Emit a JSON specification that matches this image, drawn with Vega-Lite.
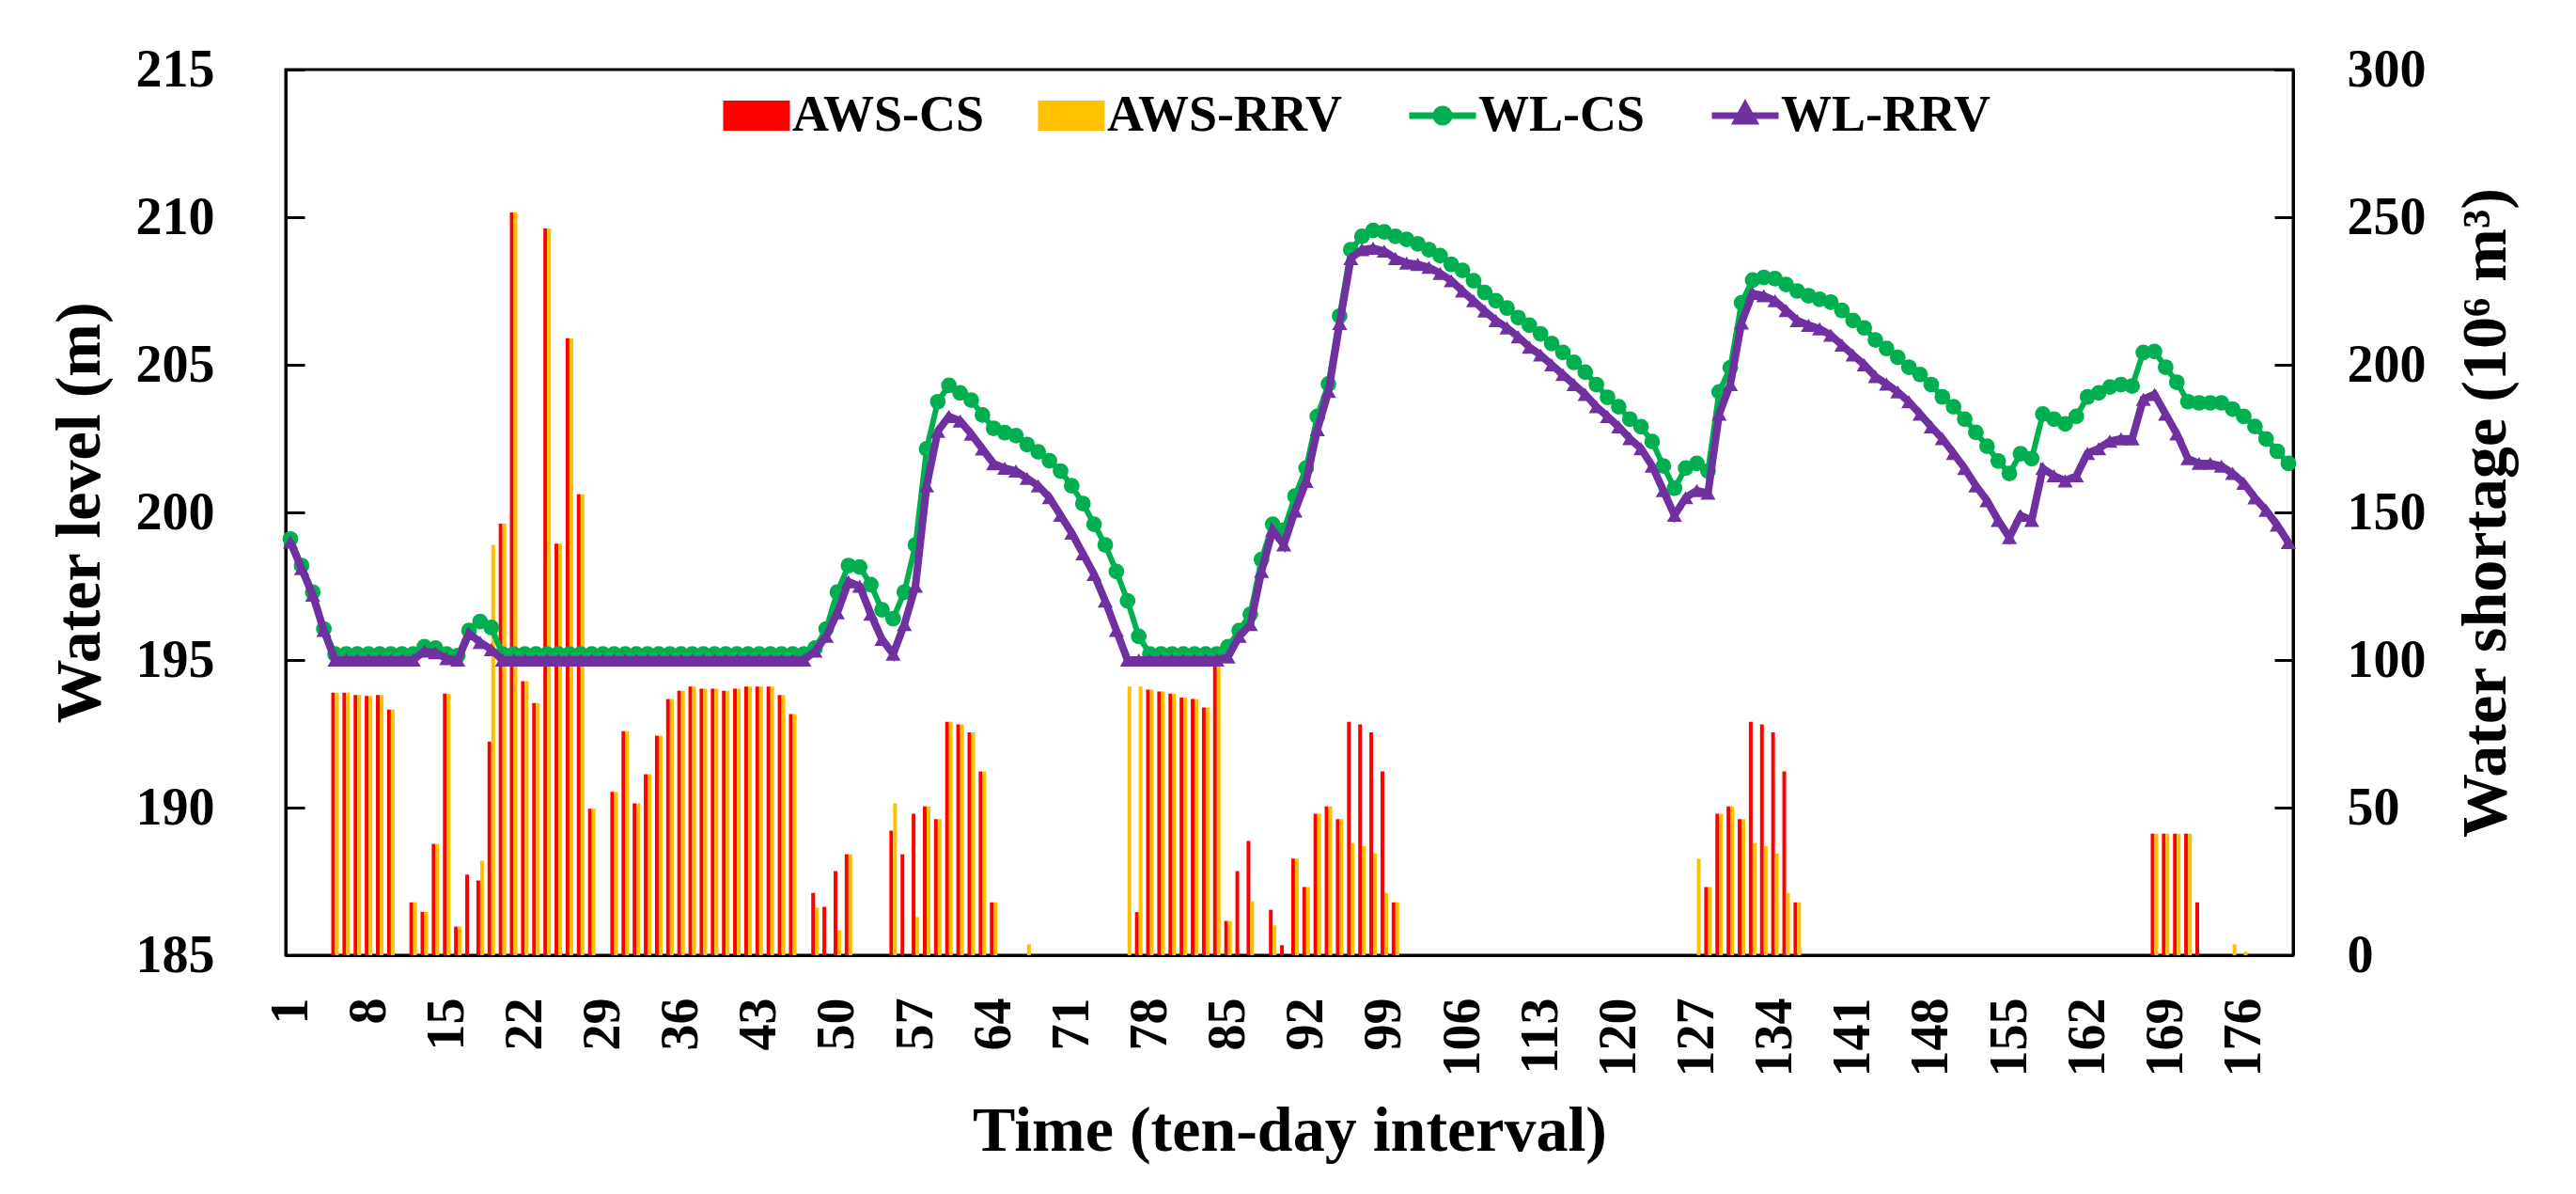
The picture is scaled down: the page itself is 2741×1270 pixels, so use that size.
{
"$schema":"https://vega.github.io/schema/vega-lite/v6.json",
"width":2136,"height":942,
"autosize":{"type":"none"},
"padding":{"left":304,"top":74,"right":301,"bottom":254},
"background":"white",
"config":{
 "view":{"stroke":"black","strokeWidth":3},
 "font":"Liberation Serif",
 "axis":{"labelFont":"Liberation Serif","labelFontWeight":"bold","labelFontSize":56,"labelColor":"black","titleFont":"Liberation Serif","titleFontWeight":"bold","titleFontSize":68,"titleColor":"black","domainColor":"black","domainWidth":3,"tickColor":"black","tickWidth":3,"grid":false,"labelFlush":false,"labelOverlap":false}
},
"datasets":{
"aws":[
{"t":5,"s":"AWS-CS","v":88.9},{"t":6,"s":"AWS-CS","v":88.9},{"t":7,"s":"AWS-CS","v":88.1},{"t":8,"s":"AWS-CS","v":87.8},{"t":9,"s":"AWS-CS","v":88.1},{"t":10,"s":"AWS-CS","v":83.2},{"t":12,"s":"AWS-CS","v":17.9},{"t":13,"s":"AWS-CS","v":14.7},{"t":14,"s":"AWS-CS","v":37.7},{"t":15,"s":"AWS-CS","v":88.6},{"t":16,"s":"AWS-CS","v":9.7},{"t":17,"s":"AWS-CS","v":27.3},{"t":18,"s":"AWS-CS","v":25.3},{"t":19,"s":"AWS-CS","v":72.4},{"t":20,"s":"AWS-CS","v":146.2},{"t":21,"s":"AWS-CS","v":251.6},{"t":22,"s":"AWS-CS","v":92.8},{"t":23,"s":"AWS-CS","v":85.4},{"t":24,"s":"AWS-CS","v":246.2},{"t":25,"s":"AWS-CS","v":139.4},{"t":26,"s":"AWS-CS","v":209.0},{"t":27,"s":"AWS-CS","v":156.1},{"t":28,"s":"AWS-CS","v":49.6},{"t":30,"s":"AWS-CS","v":55.3},{"t":31,"s":"AWS-CS","v":75.9},{"t":32,"s":"AWS-CS","v":51.4},{"t":33,"s":"AWS-CS","v":61.3},{"t":34,"s":"AWS-CS","v":74.4},{"t":35,"s":"AWS-CS","v":86.8},{"t":36,"s":"AWS-CS","v":89.6},{"t":37,"s":"AWS-CS","v":91.0},{"t":38,"s":"AWS-CS","v":90.3},{"t":39,"s":"AWS-CS","v":90.3},{"t":40,"s":"AWS-CS","v":89.6},{"t":41,"s":"AWS-CS","v":90.3},{"t":42,"s":"AWS-CS","v":91.0},{"t":43,"s":"AWS-CS","v":91.0},{"t":44,"s":"AWS-CS","v":91.0},{"t":45,"s":"AWS-CS","v":88.1},{"t":46,"s":"AWS-CS","v":81.7},{"t":48,"s":"AWS-CS","v":21.1},{"t":49,"s":"AWS-CS","v":16.4},{"t":50,"s":"AWS-CS","v":28.5},{"t":51,"s":"AWS-CS","v":34.2},{"t":55,"s":"AWS-CS","v":42.2},{"t":56,"s":"AWS-CS","v":34.2},{"t":57,"s":"AWS-CS","v":47.9},{"t":58,"s":"AWS-CS","v":50.4},{"t":59,"s":"AWS-CS","v":46.1},{"t":60,"s":"AWS-CS","v":79.1},{"t":61,"s":"AWS-CS","v":78.2},{"t":62,"s":"AWS-CS","v":75.5},{"t":63,"s":"AWS-CS","v":62.3},{"t":64,"s":"AWS-CS","v":17.9},{"t":77,"s":"AWS-CS","v":14.6},{"t":78,"s":"AWS-CS","v":90.0},{"t":79,"s":"AWS-CS","v":89.3},{"t":80,"s":"AWS-CS","v":88.6},{"t":81,"s":"AWS-CS","v":87.3},{"t":82,"s":"AWS-CS","v":86.8},{"t":83,"s":"AWS-CS","v":83.9},{"t":84,"s":"AWS-CS","v":99.0},{"t":85,"s":"AWS-CS","v":11.6},{"t":86,"s":"AWS-CS","v":28.5},{"t":87,"s":"AWS-CS","v":38.7},{"t":89,"s":"AWS-CS","v":15.4},{"t":90,"s":"AWS-CS","v":3.4},{"t":91,"s":"AWS-CS","v":32.7},{"t":92,"s":"AWS-CS","v":23.1},{"t":93,"s":"AWS-CS","v":47.9},{"t":94,"s":"AWS-CS","v":50.4},{"t":95,"s":"AWS-CS","v":46.1},{"t":96,"s":"AWS-CS","v":79.1},{"t":97,"s":"AWS-CS","v":78.2},{"t":98,"s":"AWS-CS","v":75.5},{"t":99,"s":"AWS-CS","v":62.3},{"t":100,"s":"AWS-CS","v":17.9},{"t":128,"s":"AWS-CS","v":23.1},{"t":129,"s":"AWS-CS","v":47.9},{"t":130,"s":"AWS-CS","v":50.4},{"t":131,"s":"AWS-CS","v":46.1},{"t":132,"s":"AWS-CS","v":79.1},{"t":133,"s":"AWS-CS","v":78.2},{"t":134,"s":"AWS-CS","v":75.5},{"t":135,"s":"AWS-CS","v":62.3},{"t":136,"s":"AWS-CS","v":17.9},{"t":168,"s":"AWS-CS","v":41.2},{"t":169,"s":"AWS-CS","v":41.2},{"t":170,"s":"AWS-CS","v":41.2},{"t":171,"s":"AWS-CS","v":41.2},{"t":172,"s":"AWS-CS","v":17.9},
{"t":5,"s":"AWS-RRV","v":88.9},{"t":6,"s":"AWS-RRV","v":88.9},{"t":7,"s":"AWS-RRV","v":88.1},{"t":8,"s":"AWS-RRV","v":87.8},{"t":9,"s":"AWS-RRV","v":88.1},{"t":10,"s":"AWS-RRV","v":83.2},{"t":12,"s":"AWS-RRV","v":17.9},{"t":13,"s":"AWS-RRV","v":14.7},{"t":14,"s":"AWS-RRV","v":37.7},{"t":15,"s":"AWS-RRV","v":88.6},{"t":16,"s":"AWS-RRV","v":9.7},{"t":18,"s":"AWS-RRV","v":32.0},{"t":19,"s":"AWS-RRV","v":139.0},{"t":20,"s":"AWS-RRV","v":146.2},{"t":21,"s":"AWS-RRV","v":251.6},{"t":22,"s":"AWS-RRV","v":92.8},{"t":23,"s":"AWS-RRV","v":85.4},{"t":24,"s":"AWS-RRV","v":246.2},{"t":25,"s":"AWS-RRV","v":139.4},{"t":26,"s":"AWS-RRV","v":209.0},{"t":27,"s":"AWS-RRV","v":156.1},{"t":28,"s":"AWS-RRV","v":49.6},{"t":30,"s":"AWS-RRV","v":55.3},{"t":31,"s":"AWS-RRV","v":75.9},{"t":32,"s":"AWS-RRV","v":51.4},{"t":33,"s":"AWS-RRV","v":61.3},{"t":34,"s":"AWS-RRV","v":74.4},{"t":35,"s":"AWS-RRV","v":86.8},{"t":36,"s":"AWS-RRV","v":89.6},{"t":37,"s":"AWS-RRV","v":91.0},{"t":38,"s":"AWS-RRV","v":90.3},{"t":39,"s":"AWS-RRV","v":90.3},{"t":40,"s":"AWS-RRV","v":89.6},{"t":41,"s":"AWS-RRV","v":90.3},{"t":42,"s":"AWS-RRV","v":91.0},{"t":43,"s":"AWS-RRV","v":91.0},{"t":44,"s":"AWS-RRV","v":91.0},{"t":45,"s":"AWS-RRV","v":88.1},{"t":46,"s":"AWS-RRV","v":81.7},{"t":48,"s":"AWS-RRV","v":16.1},{"t":50,"s":"AWS-RRV","v":8.4},{"t":51,"s":"AWS-RRV","v":34.2},{"t":55,"s":"AWS-RRV","v":51.4},{"t":57,"s":"AWS-RRV","v":12.9},{"t":58,"s":"AWS-RRV","v":50.4},{"t":59,"s":"AWS-RRV","v":46.1},{"t":60,"s":"AWS-RRV","v":79.1},{"t":61,"s":"AWS-RRV","v":78.2},{"t":62,"s":"AWS-RRV","v":75.5},{"t":63,"s":"AWS-RRV","v":62.3},{"t":64,"s":"AWS-RRV","v":17.9},{"t":67,"s":"AWS-RRV","v":3.7},{"t":76,"s":"AWS-RRV","v":91.0},{"t":77,"s":"AWS-RRV","v":91.0},{"t":78,"s":"AWS-RRV","v":90.0},{"t":79,"s":"AWS-RRV","v":89.3},{"t":80,"s":"AWS-RRV","v":88.6},{"t":81,"s":"AWS-RRV","v":87.3},{"t":82,"s":"AWS-RRV","v":86.8},{"t":83,"s":"AWS-RRV","v":83.9},{"t":84,"s":"AWS-RRV","v":99.0},{"t":85,"s":"AWS-RRV","v":11.6},{"t":87,"s":"AWS-RRV","v":18.3},{"t":89,"s":"AWS-RRV","v":10.1},{"t":91,"s":"AWS-RRV","v":32.7},{"t":92,"s":"AWS-RRV","v":23.1},{"t":93,"s":"AWS-RRV","v":47.9},{"t":94,"s":"AWS-RRV","v":50.4},{"t":95,"s":"AWS-RRV","v":46.1},{"t":96,"s":"AWS-RRV","v":38.0},{"t":97,"s":"AWS-RRV","v":37.0},{"t":98,"s":"AWS-RRV","v":34.5},{"t":99,"s":"AWS-RRV","v":21.1},{"t":100,"s":"AWS-RRV","v":17.9},{"t":127,"s":"AWS-RRV","v":32.7},{"t":128,"s":"AWS-RRV","v":23.1},{"t":129,"s":"AWS-RRV","v":47.9},{"t":130,"s":"AWS-RRV","v":50.4},{"t":131,"s":"AWS-RRV","v":46.1},{"t":132,"s":"AWS-RRV","v":38.0},{"t":133,"s":"AWS-RRV","v":37.0},{"t":134,"s":"AWS-RRV","v":34.5},{"t":135,"s":"AWS-RRV","v":21.1},{"t":136,"s":"AWS-RRV","v":17.9},{"t":168,"s":"AWS-RRV","v":41.2},{"t":169,"s":"AWS-RRV","v":41.2},{"t":170,"s":"AWS-RRV","v":41.2},{"t":171,"s":"AWS-RRV","v":41.2},{"t":175,"s":"AWS-RRV","v":3.7},{"t":176,"s":"AWS-RRV","v":1.2}
],
"wl":[
{"t":1,"s":"WL-CS","v":199.1},{"t":2,"s":"WL-CS","v":198.2},{"t":3,"s":"WL-CS","v":197.3},{"t":4,"s":"WL-CS","v":196.05},{"t":5,"s":"WL-CS","v":195.2},{"t":6,"s":"WL-CS","v":195.2},{"t":7,"s":"WL-CS","v":195.2},{"t":8,"s":"WL-CS","v":195.2},{"t":9,"s":"WL-CS","v":195.2},{"t":10,"s":"WL-CS","v":195.2},{"t":11,"s":"WL-CS","v":195.2},{"t":12,"s":"WL-CS","v":195.2},{"t":13,"s":"WL-CS","v":195.45},{"t":14,"s":"WL-CS","v":195.4},{"t":15,"s":"WL-CS","v":195.2},{"t":16,"s":"WL-CS","v":195.15},{"t":17,"s":"WL-CS","v":196.0},{"t":18,"s":"WL-CS","v":196.3},{"t":19,"s":"WL-CS","v":196.1},{"t":20,"s":"WL-CS","v":195.2},
{"t":21,"s":"WL-CS","v":195.2},{"t":22,"s":"WL-CS","v":195.2},{"t":23,"s":"WL-CS","v":195.2},{"t":24,"s":"WL-CS","v":195.2},{"t":25,"s":"WL-CS","v":195.2},{"t":26,"s":"WL-CS","v":195.2},{"t":27,"s":"WL-CS","v":195.2},{"t":28,"s":"WL-CS","v":195.2},{"t":29,"s":"WL-CS","v":195.2},{"t":30,"s":"WL-CS","v":195.2},{"t":31,"s":"WL-CS","v":195.2},{"t":32,"s":"WL-CS","v":195.2},{"t":33,"s":"WL-CS","v":195.2},{"t":34,"s":"WL-CS","v":195.2},{"t":35,"s":"WL-CS","v":195.2},{"t":36,"s":"WL-CS","v":195.2},{"t":37,"s":"WL-CS","v":195.2},{"t":38,"s":"WL-CS","v":195.2},{"t":39,"s":"WL-CS","v":195.2},{"t":40,"s":"WL-CS","v":195.2},{"t":41,"s":"WL-CS","v":195.2},{"t":42,"s":"WL-CS","v":195.2},{"t":43,"s":"WL-CS","v":195.2},{"t":44,"s":"WL-CS","v":195.2},{"t":45,"s":"WL-CS","v":195.2},{"t":46,"s":"WL-CS","v":195.2},{"t":47,"s":"WL-CS","v":195.2},{"t":48,"s":"WL-CS","v":195.4},{"t":49,"s":"WL-CS","v":196.05},{"t":50,"s":"WL-CS","v":197.3},
{"t":51,"s":"WL-CS","v":198.2},{"t":52,"s":"WL-CS","v":198.15},{"t":53,"s":"WL-CS","v":197.55},{"t":54,"s":"WL-CS","v":196.7},{"t":55,"s":"WL-CS","v":196.4},{"t":56,"s":"WL-CS","v":197.3},{"t":57,"s":"WL-CS","v":198.9},{"t":58,"s":"WL-CS","v":202.15},{"t":59,"s":"WL-CS","v":203.75},{"t":60,"s":"WL-CS","v":204.3},{"t":61,"s":"WL-CS","v":204.05},{"t":62,"s":"WL-CS","v":203.8},{"t":63,"s":"WL-CS","v":203.3},{"t":64,"s":"WL-CS","v":202.85},{"t":65,"s":"WL-CS","v":202.7},{"t":66,"s":"WL-CS","v":202.6},{"t":67,"s":"WL-CS","v":202.3},{"t":68,"s":"WL-CS","v":202.05},{"t":69,"s":"WL-CS","v":201.75},{"t":70,"s":"WL-CS","v":201.4},{"t":71,"s":"WL-CS","v":200.9},{"t":72,"s":"WL-CS","v":200.3},{"t":73,"s":"WL-CS","v":199.6},{"t":74,"s":"WL-CS","v":198.9},{"t":75,"s":"WL-CS","v":198.0},{"t":76,"s":"WL-CS","v":197.0},{"t":77,"s":"WL-CS","v":195.8},{"t":78,"s":"WL-CS","v":195.2},{"t":79,"s":"WL-CS","v":195.2},{"t":80,"s":"WL-CS","v":195.2},
{"t":81,"s":"WL-CS","v":195.2},{"t":82,"s":"WL-CS","v":195.2},{"t":83,"s":"WL-CS","v":195.2},{"t":84,"s":"WL-CS","v":195.2},{"t":85,"s":"WL-CS","v":195.45},{"t":86,"s":"WL-CS","v":196.0},{"t":87,"s":"WL-CS","v":196.55},{"t":88,"s":"WL-CS","v":198.4},{"t":89,"s":"WL-CS","v":199.6},{"t":90,"s":"WL-CS","v":199.4},{"t":91,"s":"WL-CS","v":200.55},{"t":92,"s":"WL-CS","v":201.5},{"t":93,"s":"WL-CS","v":203.25},{"t":94,"s":"WL-CS","v":204.35},{"t":95,"s":"WL-CS","v":206.65},{"t":96,"s":"WL-CS","v":208.9},{"t":97,"s":"WL-CS","v":209.35},{"t":98,"s":"WL-CS","v":209.55},{"t":99,"s":"WL-CS","v":209.5},{"t":100,"s":"WL-CS","v":209.35},{"t":101,"s":"WL-CS","v":209.25},{"t":102,"s":"WL-CS","v":209.1},{"t":103,"s":"WL-CS","v":208.9},{"t":104,"s":"WL-CS","v":208.7},{"t":105,"s":"WL-CS","v":208.4},{"t":106,"s":"WL-CS","v":208.2},{"t":107,"s":"WL-CS","v":207.85},{"t":108,"s":"WL-CS","v":207.45},{"t":109,"s":"WL-CS","v":207.17},{"t":110,"s":"WL-CS","v":206.92},
{"t":111,"s":"WL-CS","v":206.6},{"t":112,"s":"WL-CS","v":206.34},{"t":113,"s":"WL-CS","v":206.05},{"t":114,"s":"WL-CS","v":205.72},{"t":115,"s":"WL-CS","v":205.42},{"t":116,"s":"WL-CS","v":205.08},{"t":117,"s":"WL-CS","v":204.75},{"t":118,"s":"WL-CS","v":204.33},{"t":119,"s":"WL-CS","v":203.9},{"t":120,"s":"WL-CS","v":203.58},{"t":121,"s":"WL-CS","v":203.16},{"t":122,"s":"WL-CS","v":202.9},{"t":123,"s":"WL-CS","v":202.4},{"t":124,"s":"WL-CS","v":201.57},{"t":125,"s":"WL-CS","v":200.82},{"t":126,"s":"WL-CS","v":201.5},{"t":127,"s":"WL-CS","v":201.66},{"t":128,"s":"WL-CS","v":201.4},{"t":129,"s":"WL-CS","v":204.08},{"t":130,"s":"WL-CS","v":204.9},{"t":131,"s":"WL-CS","v":207.1},{"t":132,"s":"WL-CS","v":207.87},{"t":133,"s":"WL-CS","v":207.96},{"t":134,"s":"WL-CS","v":207.92},{"t":135,"s":"WL-CS","v":207.72},{"t":136,"s":"WL-CS","v":207.5},{"t":137,"s":"WL-CS","v":207.34},{"t":138,"s":"WL-CS","v":207.22},{"t":139,"s":"WL-CS","v":207.12},{"t":140,"s":"WL-CS","v":206.84},
{"t":141,"s":"WL-CS","v":206.5},{"t":142,"s":"WL-CS","v":206.25},{"t":143,"s":"WL-CS","v":205.84},{"t":144,"s":"WL-CS","v":205.55},{"t":145,"s":"WL-CS","v":205.25},{"t":146,"s":"WL-CS","v":204.92},{"t":147,"s":"WL-CS","v":204.67},{"t":148,"s":"WL-CS","v":204.33},{"t":149,"s":"WL-CS","v":203.91},{"t":150,"s":"WL-CS","v":203.58},{"t":151,"s":"WL-CS","v":203.16},{"t":152,"s":"WL-CS","v":202.71},{"t":153,"s":"WL-CS","v":202.24},{"t":154,"s":"WL-CS","v":201.74},{"t":155,"s":"WL-CS","v":201.32},{"t":156,"s":"WL-CS","v":201.99},{"t":157,"s":"WL-CS","v":201.82},{"t":158,"s":"WL-CS","v":203.33},{"t":159,"s":"WL-CS","v":203.16},{"t":160,"s":"WL-CS","v":203.0},{"t":161,"s":"WL-CS","v":203.25},{"t":162,"s":"WL-CS","v":203.91},{"t":163,"s":"WL-CS","v":204.05},{"t":164,"s":"WL-CS","v":204.25},{"t":165,"s":"WL-CS","v":204.33},{"t":166,"s":"WL-CS","v":204.28},{"t":167,"s":"WL-CS","v":205.42},{"t":168,"s":"WL-CS","v":205.45},{"t":169,"s":"WL-CS","v":204.92},{"t":170,"s":"WL-CS","v":204.41},
{"t":171,"s":"WL-CS","v":203.75},{"t":172,"s":"WL-CS","v":203.71},{"t":173,"s":"WL-CS","v":203.71},{"t":174,"s":"WL-CS","v":203.71},{"t":175,"s":"WL-CS","v":203.5},{"t":176,"s":"WL-CS","v":203.25},{"t":177,"s":"WL-CS","v":202.91},{"t":178,"s":"WL-CS","v":202.49},{"t":179,"s":"WL-CS","v":202.07},{"t":180,"s":"WL-CS","v":201.66},
{"t":1,"s":"WL-RRV","v":199.0},{"t":2,"s":"WL-RRV","v":198.1},{"t":3,"s":"WL-RRV","v":197.2},{"t":4,"s":"WL-RRV","v":196.0},{"t":5,"s":"WL-RRV","v":195.0},{"t":6,"s":"WL-RRV","v":195.0},{"t":7,"s":"WL-RRV","v":195.0},{"t":8,"s":"WL-RRV","v":195.0},{"t":9,"s":"WL-RRV","v":195.0},{"t":10,"s":"WL-RRV","v":195.0},{"t":11,"s":"WL-RRV","v":195.0},{"t":12,"s":"WL-RRV","v":195.0},{"t":13,"s":"WL-RRV","v":195.3},{"t":14,"s":"WL-RRV","v":195.25},{"t":15,"s":"WL-RRV","v":195.05},{"t":16,"s":"WL-RRV","v":195.0},{"t":17,"s":"WL-RRV","v":195.9},{"t":18,"s":"WL-RRV","v":195.6},{"t":19,"s":"WL-RRV","v":195.35},{"t":20,"s":"WL-RRV","v":195.0},
{"t":21,"s":"WL-RRV","v":195.0},{"t":22,"s":"WL-RRV","v":195.0},{"t":23,"s":"WL-RRV","v":195.0},{"t":24,"s":"WL-RRV","v":195.0},{"t":25,"s":"WL-RRV","v":195.0},{"t":26,"s":"WL-RRV","v":195.0},{"t":27,"s":"WL-RRV","v":195.0},{"t":28,"s":"WL-RRV","v":195.0},{"t":29,"s":"WL-RRV","v":195.0},{"t":30,"s":"WL-RRV","v":195.0},{"t":31,"s":"WL-RRV","v":195.0},{"t":32,"s":"WL-RRV","v":195.0},{"t":33,"s":"WL-RRV","v":195.0},{"t":34,"s":"WL-RRV","v":195.0},{"t":35,"s":"WL-RRV","v":195.0},{"t":36,"s":"WL-RRV","v":195.0},{"t":37,"s":"WL-RRV","v":195.0},{"t":38,"s":"WL-RRV","v":195.0},{"t":39,"s":"WL-RRV","v":195.0},{"t":40,"s":"WL-RRV","v":195.0},{"t":41,"s":"WL-RRV","v":195.0},{"t":42,"s":"WL-RRV","v":195.0},{"t":43,"s":"WL-RRV","v":195.0},{"t":44,"s":"WL-RRV","v":195.0},{"t":45,"s":"WL-RRV","v":195.0},{"t":46,"s":"WL-RRV","v":195.0},{"t":47,"s":"WL-RRV","v":195.0},{"t":48,"s":"WL-RRV","v":195.3},{"t":49,"s":"WL-RRV","v":195.8},{"t":50,"s":"WL-RRV","v":196.6},
{"t":51,"s":"WL-RRV","v":197.65},{"t":52,"s":"WL-RRV","v":197.5},{"t":53,"s":"WL-RRV","v":196.55},{"t":54,"s":"WL-RRV","v":195.7},{"t":55,"s":"WL-RRV","v":195.2},{"t":56,"s":"WL-RRV","v":196.2},{"t":57,"s":"WL-RRV","v":197.5},{"t":58,"s":"WL-RRV","v":200.9},{"t":59,"s":"WL-RRV","v":202.75},{"t":60,"s":"WL-RRV","v":203.25},{"t":61,"s":"WL-RRV","v":203.1},{"t":62,"s":"WL-RRV","v":202.65},{"t":63,"s":"WL-RRV","v":202.15},{"t":64,"s":"WL-RRV","v":201.65},{"t":65,"s":"WL-RRV","v":201.5},{"t":66,"s":"WL-RRV","v":201.4},{"t":67,"s":"WL-RRV","v":201.15},{"t":68,"s":"WL-RRV","v":200.9},{"t":69,"s":"WL-RRV","v":200.5},{"t":70,"s":"WL-RRV","v":199.9},{"t":71,"s":"WL-RRV","v":199.3},{"t":72,"s":"WL-RRV","v":198.6},{"t":73,"s":"WL-RRV","v":197.9},{"t":74,"s":"WL-RRV","v":197.0},{"t":75,"s":"WL-RRV","v":196.0},{"t":76,"s":"WL-RRV","v":195.0},{"t":77,"s":"WL-RRV","v":195.0},{"t":78,"s":"WL-RRV","v":195.0},{"t":79,"s":"WL-RRV","v":195.0},{"t":80,"s":"WL-RRV","v":195.0},
{"t":81,"s":"WL-RRV","v":195.0},{"t":82,"s":"WL-RRV","v":195.0},{"t":83,"s":"WL-RRV","v":195.0},{"t":84,"s":"WL-RRV","v":195.0},{"t":85,"s":"WL-RRV","v":195.1},{"t":86,"s":"WL-RRV","v":195.8},{"t":87,"s":"WL-RRV","v":196.2},{"t":88,"s":"WL-RRV","v":198.0},{"t":89,"s":"WL-RRV","v":199.4},{"t":90,"s":"WL-RRV","v":198.9},{"t":91,"s":"WL-RRV","v":200.05},{"t":92,"s":"WL-RRV","v":201.05},{"t":93,"s":"WL-RRV","v":202.8},{"t":94,"s":"WL-RRV","v":204.1},{"t":95,"s":"WL-RRV","v":206.4},{"t":96,"s":"WL-RRV","v":208.6},{"t":97,"s":"WL-RRV","v":208.9},{"t":98,"s":"WL-RRV","v":208.95},{"t":99,"s":"WL-RRV","v":208.85},{"t":100,"s":"WL-RRV","v":208.6},{"t":101,"s":"WL-RRV","v":208.45},{"t":102,"s":"WL-RRV","v":208.4},{"t":103,"s":"WL-RRV","v":208.3},{"t":104,"s":"WL-RRV","v":208.1},{"t":105,"s":"WL-RRV","v":207.85},{"t":106,"s":"WL-RRV","v":207.5},{"t":107,"s":"WL-RRV","v":207.17},{"t":108,"s":"WL-RRV","v":206.82},{"t":109,"s":"WL-RRV","v":206.5},{"t":110,"s":"WL-RRV","v":206.25},
{"t":111,"s":"WL-RRV","v":205.95},{"t":112,"s":"WL-RRV","v":205.6},{"t":113,"s":"WL-RRV","v":205.33},{"t":114,"s":"WL-RRV","v":205.0},{"t":115,"s":"WL-RRV","v":204.67},{"t":116,"s":"WL-RRV","v":204.33},{"t":117,"s":"WL-RRV","v":204.0},{"t":118,"s":"WL-RRV","v":203.58},{"t":119,"s":"WL-RRV","v":203.25},{"t":120,"s":"WL-RRV","v":202.9},{"t":121,"s":"WL-RRV","v":202.5},{"t":122,"s":"WL-RRV","v":202.16},{"t":123,"s":"WL-RRV","v":201.57},{"t":124,"s":"WL-RRV","v":200.74},{"t":125,"s":"WL-RRV","v":199.9},{"t":126,"s":"WL-RRV","v":200.5},{"t":127,"s":"WL-RRV","v":200.74},{"t":128,"s":"WL-RRV","v":200.65},{"t":129,"s":"WL-RRV","v":203.33},{"t":130,"s":"WL-RRV","v":204.33},{"t":131,"s":"WL-RRV","v":206.42},{"t":132,"s":"WL-RRV","v":207.42},{"t":133,"s":"WL-RRV","v":207.34},{"t":134,"s":"WL-RRV","v":207.17},{"t":135,"s":"WL-RRV","v":206.84},{"t":136,"s":"WL-RRV","v":206.5},{"t":137,"s":"WL-RRV","v":206.34},{"t":138,"s":"WL-RRV","v":206.22},{"t":139,"s":"WL-RRV","v":206.0},{"t":140,"s":"WL-RRV","v":205.67},
{"t":141,"s":"WL-RRV","v":205.33},{"t":142,"s":"WL-RRV","v":205.0},{"t":143,"s":"WL-RRV","v":204.6},{"t":144,"s":"WL-RRV","v":204.35},{"t":145,"s":"WL-RRV","v":204.08},{"t":146,"s":"WL-RRV","v":203.75},{"t":147,"s":"WL-RRV","v":203.33},{"t":148,"s":"WL-RRV","v":202.9},{"t":149,"s":"WL-RRV","v":202.5},{"t":150,"s":"WL-RRV","v":202.0},{"t":151,"s":"WL-RRV","v":201.49},{"t":152,"s":"WL-RRV","v":200.9},{"t":153,"s":"WL-RRV","v":200.4},{"t":154,"s":"WL-RRV","v":199.73},{"t":155,"s":"WL-RRV","v":199.15},{"t":156,"s":"WL-RRV","v":199.9},{"t":157,"s":"WL-RRV","v":199.73},{"t":158,"s":"WL-RRV","v":201.49},{"t":159,"s":"WL-RRV","v":201.24},{"t":160,"s":"WL-RRV","v":201.07},{"t":161,"s":"WL-RRV","v":201.24},{"t":162,"s":"WL-RRV","v":202.0},{"t":163,"s":"WL-RRV","v":202.16},{"t":164,"s":"WL-RRV","v":202.41},{"t":165,"s":"WL-RRV","v":202.49},{"t":166,"s":"WL-RRV","v":202.49},{"t":167,"s":"WL-RRV","v":203.83},{"t":168,"s":"WL-RRV","v":204.0},{"t":169,"s":"WL-RRV","v":203.33},{"t":170,"s":"WL-RRV","v":202.66},
{"t":171,"s":"WL-RRV","v":201.82},{"t":172,"s":"WL-RRV","v":201.66},{"t":173,"s":"WL-RRV","v":201.66},{"t":174,"s":"WL-RRV","v":201.57},{"t":175,"s":"WL-RRV","v":201.32},{"t":176,"s":"WL-RRV","v":200.99},{"t":177,"s":"WL-RRV","v":200.49},{"t":178,"s":"WL-RRV","v":200.07},{"t":179,"s":"WL-RRV","v":199.57},{"t":180,"s":"WL-RRV","v":198.98}
]
},
"layer":[
 {
  "data":{"name":"aws"},
  "encoding":{
   "x":{"field":"t","type":"quantitative","scale":{"domain":[1,180],"nice":false,"zero":false},
        "axis":{"values":[1,8,15,22,29,36,43,50,57,64,71,78,85,92,99,106,113,120,127,134,141,148,155,162,169,176],"labelAngle":270,"ticks":false,"labelPadding":45,"title":"Time (ten-day interval)","titlePadding":24,"format":"d"}},
   "y":{"field":"v","type":"quantitative","scale":{"domain":[0,300],"nice":false,"zero":true},
        "axis":{"orient":"right","values":[0,50,100,150,200,250,300],"tickSize":-20,"labelPadding":77,"title":"Water shortage (10⁶ m³)","titleAngle":270,"titleBaseline":"top","titlePadding":30}},
   "color":{"field":"s","type":"nominal",
     "scale":{"domain":["AWS-CS","AWS-RRV","WL-CS","WL-RRV"],"range":["#FF0000","#FFC000","#00B050","#7030A0"]},
     "legend":{"title":null,"orient":"none","legendX":474,"legendY":22,"direction":"horizontal","padding":0,
       "labelFont":"Liberation Serif","labelFontWeight":"bold","labelFontSize":54,"labelColor":"black","labelOffset":11,"labelLimit":500,"columnPadding":56,"symbolSize":5041,
       "encode":{"symbols":{"update":{
         "shape":{"signal":"datum.value == 'WL-CS' ? 'M-1,0H1M-0.2,0A0.2,0.2 0 1,1 0.2,0A0.2,0.2 0 1,1 -0.2,0Z' : datum.value == 'WL-RRV' ? 'M-1,0H1M0,-0.3L0.26,0.17L-0.26,0.17Z' : 'M-1,-0.45H1V0.45H-1Z'"},
         "fill":{"scale":"color","field":"value"},
         "stroke":{"scale":"color","field":"value"},
         "strokeWidth":{"signal":"datum.value == 'WL-CS' || datum.value == 'WL-RRV' ? 7 : 0"},
         "opacity":{"value":1},"fillOpacity":{"value":1},"strokeOpacity":{"value":1}
       }}}}}
  },
  "layer":[
   {"transform":[{"filter":"datum.s == 'AWS-CS'"}],"mark":{"type":"bar","size":4,"xOffset":-2}},
   {"transform":[{"filter":"datum.s == 'AWS-RRV'"}],"mark":{"type":"bar","size":4,"xOffset":2}}
  ]
 },
 {
  "data":{"name":"wl"},
  "encoding":{
   "x":{"field":"t","type":"quantitative","scale":{"domain":[1,180],"nice":false,"zero":false}},
   "y":{"field":"v","type":"quantitative","scale":{"domain":[185,215],"nice":false,"zero":false},
        "axis":{"orient":"left","values":[185,190,195,200,205,210,215],"tickSize":-20,"labelPadding":96,"title":"Water level (m)","titlePadding":25}},
   "color":{"field":"s","type":"nominal"}
  },
  "layer":[
   {"transform":[{"filter":"datum.s == 'WL-CS'"}],"mark":{"type":"line","strokeWidth":6,"point":{"filled":true,"shape":"circle","size":280}}},
   {"transform":[{"filter":"datum.s == 'WL-RRV'"}],"mark":{"type":"line","strokeWidth":8,"point":{"filled":true,"shape":"triangle-up","size":260}}}
  ]
 }
],
"resolve":{"scale":{"y":"independent"}}
}
